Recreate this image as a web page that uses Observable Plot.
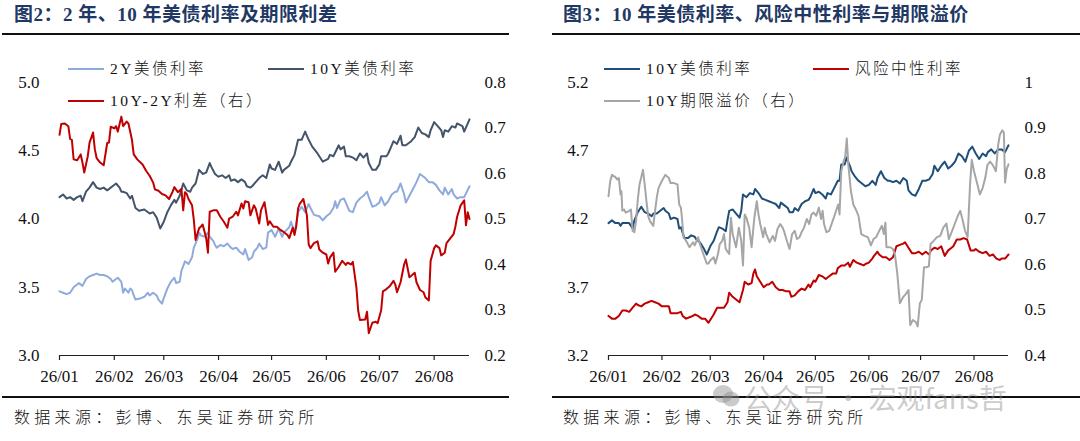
<!DOCTYPE html>
<html>
<head>
<meta charset="utf-8">
<script src="https://cdn.jsdelivr.net/npm/d3@7"></script>
<script src="https://cdn.jsdelivr.net/npm/@observablehq/plot@0.6"></script>
<style>
  html, body { margin: 0; padding: 0; background: #fff; }
  #wrap { position: relative; width: 1080px; height: 441px; overflow: hidden; background: #fff; }
  .abs { position: absolute; white-space: nowrap; }
  .title { font-family: "Liberation Serif", "Noto Sans CJK SC", serif; font-weight: bold; font-size: 19px; color: #1f3864; letter-spacing: 0.5px; line-height: 22px; }
  .rule { position: absolute; height: 2px; background: #111; }
  .src { font-family: "Liberation Serif", "Noto Sans CJK SC", serif; font-size: 16px; color: #111; letter-spacing: 4.3px; line-height: 20px; font-weight: 300; }
  .leg { font-family: "Liberation Serif", "Noto Sans CJK SC", serif; font-size: 15.5px; color: #111; letter-spacing: 2.5px; line-height: 20px; font-weight: 300; }
  .sw { position: absolute; height: 2px; }
  .wm { font-family: "Noto Sans CJK SC", sans-serif; font-size: 28px; color: rgba(140,140,140,0.45); line-height: 34px; }
</style>
</head>
<body>
<div id="wrap"></div>
<script>
// ---------- data (day = days since 2026-01-01) ----------
const months = ["26/01","26/02","26/03","26/04","26/05","26/06","26/07","26/08"];
const lastDay = 232;

// Figure 2: 2Y UST yield (left axis)
const ust2y = [[0,3.47],[2,3.46],[4,3.45],[6,3.46],[8,3.50],[10,3.52],[11,3.53],[13,3.51],[15,3.56],[17,3.58],[19,3.59],[21,3.60],[23,3.59],[25,3.59],[27,3.58],[29,3.56],[30,3.54],[32,3.56],[33,3.57],[35,3.54],[36,3.46],[37,3.49],[39,3.46],[40,3.49],[41,3.48],[42,3.44],[43,3.41],[46,3.42],[48,3.43],[50,3.46],[51,3.44],[53,3.46],[55,3.44],[56,3.41],[58,3.38],[59,3.42],[61,3.49],[63,3.54],[65,3.57],[66,3.53],[68,3.54],[69,3.62],[71,3.69],[73,3.67],[75,3.72],[76,3.79],[78,3.85],[79,3.90],[80,3.88],[82,3.87],[84,3.90],[85,3.87],[87,3.84],[88,3.81],[89,3.79],[91,3.81],[93,3.80],[95,3.82],[97,3.79],[98,3.78],[100,3.79],[102,3.76],[104,3.74],[105,3.78],[107,3.70],[109,3.72],[110,3.76],[112,3.79],[113,3.82],[115,3.78],[117,3.79],[118,3.90],[120,3.92],[122,3.87],[124,3.93],[126,3.87],[127,3.90],[130,3.94],[131,3.98],[133,3.90],[135,4.05],[137,4.09],[139,4.05],[141,4.11],[142,4.08],[144,4.03],[147,4.02],[149,3.99],[151,4.02],[153,4.04],[155,4.08],[156,4.13],[157,4.08],[159,4.14],[161,4.15],[162,4.12],[164,4.06],[166,4.05],[168,4.12],[170,4.15],[172,4.17],[174,4.20],[175,4.16],[177,4.09],[179,4.10],[181,4.12],[182,4.16],[184,4.10],[186,4.13],[188,4.18],[190,4.20],[191,4.20],[193,4.26],[195,4.18],[196,4.12],[198,4.17],[200,4.22],[202,4.27],[204,4.33],[206,4.31],[207,4.30],[209,4.27],[211,4.27],[213,4.25],[215,4.21],[217,4.18],[218,4.23],[220,4.18],[222,4.22],[223,4.18],[225,4.15],[227,4.16],[229,4.16],[232,4.24]];

// Figure 2: 10Y UST yield (left axis)
const ust10y = [[0,4.16],[2,4.18],[4,4.15],[6,4.16],[8,4.14],[10,4.16],[12,4.17],[13,4.13],[15,4.20],[17,4.23],[19,4.27],[21,4.23],[23,4.22],[25,4.23],[27,4.21],[30,4.24],[32,4.26],[34,4.23],[35,4.20],[36,4.20],[38,4.19],[40,4.15],[41,4.17],[43,4.08],[45,4.06],[48,4.07],[51,4.04],[53,4.05],[55,4.01],[57,3.93],[59,3.98],[61,4.05],[63,4.10],[65,4.14],[66,4.12],[68,4.17],[70,4.26],[72,4.21],[74,4.20],[75,4.23],[77,4.26],[79,4.36],[81,4.33],[83,4.34],[85,4.41],[86,4.38],[88,4.33],[90,4.31],[92,4.32],[94,4.30],[96,4.32],[97,4.28],[99,4.29],[101,4.27],[103,4.29],[105,4.27],[106,4.24],[108,4.23],[109,4.24],[111,4.27],[113,4.30],[115,4.32],[117,4.30],[119,4.40],[120,4.37],[122,4.36],[124,4.42],[126,4.34],[127,4.36],[130,4.39],[131,4.42],[133,4.47],[135,4.58],[137,4.58],[139,4.64],[141,4.58],[143,4.53],[146,4.48],[149,4.42],[152,4.44],[153,4.47],[155,4.46],[158,4.54],[159,4.51],[161,4.53],[162,4.46],[164,4.46],[166,4.45],[168,4.43],[170,4.48],[172,4.45],[174,4.48],[175,4.41],[177,4.36],[179,4.36],[181,4.40],[182,4.46],[185,4.46],[186,4.48],[188,4.54],[189,4.57],[191,4.55],[193,4.61],[194,4.54],[196,4.54],[199,4.57],[201,4.60],[203,4.67],[205,4.63],[207,4.62],[209,4.60],[210,4.65],[212,4.71],[214,4.68],[216,4.65],[217,4.60],[218,4.65],[220,4.64],[222,4.68],[224,4.67],[225,4.70],[228,4.68],[229,4.64],[232,4.73]];

// Figure 2: 10Y-2Y spread (right axis)
const spread = [[0,0.685],[1,0.709],[3,0.710],[5,0.704],[6,0.676],[7,0.674],[8,0.631],[10,0.629],[12,0.642],[13,0.624],[14,0.602],[16,0.638],[17,0.668],[19,0.690],[20,0.653],[21,0.634],[23,0.624],[25,0.618],[27,0.667],[28,0.668],[29,0.703],[31,0.699],[32,0.704],[33,0.692],[34,0.709],[35,0.725],[36,0.704],[38,0.714],[39,0.710],[41,0.674],[42,0.642],[44,0.631],[47,0.620],[49,0.606],[51,0.595],[53,0.580],[54,0.565],[56,0.562],[58,0.555],[60,0.552],[62,0.544],[64,0.560],[65,0.570],[67,0.559],[69,0.566],[70,0.519],[71,0.559],[72,0.555],[73,0.544],[75,0.530],[76,0.498],[77,0.454],[79,0.480],[80,0.483],[81,0.488],[83,0.458],[84,0.426],[85,0.516],[87,0.519],[89,0.519],[91,0.505],[93,0.494],[95,0.481],[96,0.501],[98,0.505],[100,0.516],[101,0.508],[103,0.534],[104,0.523],[105,0.539],[107,0.537],[108,0.508],[110,0.530],[111,0.523],[113,0.490],[114,0.519],[116,0.537],[118,0.487],[119,0.495],[121,0.483],[123,0.483],[125,0.476],[127,0.471],[129,0.465],[130,0.458],[132,0.481],[133,0.465],[134,0.485],[135,0.523],[136,0.534],[138,0.544],[140,0.508],[141,0.444],[142,0.436],[144,0.447],[146,0.451],[147,0.433],[149,0.426],[151,0.422],[152,0.402],[153,0.415],[155,0.426],[156,0.384],[158,0.395],[160,0.408],[162,0.399],[163,0.404],[165,0.400],[166,0.406],[168,0.350],[169,0.299],[170,0.278],[173,0.279],[174,0.296],[175,0.249],[177,0.272],[179,0.274],[180,0.271],[182,0.299],[183,0.341],[185,0.346],[187,0.353],[189,0.364],[190,0.356],[191,0.339],[193,0.361],[195,0.400],[196,0.411],[198,0.372],[199,0.375],[201,0.382],[202,0.361],[204,0.344],[206,0.339],[207,0.328],[209,0.321],[210,0.408],[212,0.436],[213,0.442],[215,0.436],[216,0.420],[218,0.426],[219,0.447],[221,0.457],[223,0.467],[224,0.483],[225,0.505],[227,0.530],[229,0.541],[230,0.486],[231,0.515],[232,0.500]];

// Figure 3: 10Y UST yield (left axis)
const ust10yB = [[0,4.17],[2,4.19],[4,4.17],[6,4.17],[7,4.15],[8,4.17],[10,4.17],[12,4.17],[14,4.13],[15,4.19],[17,4.25],[19,4.29],[21,4.25],[23,4.24],[25,4.22],[26,4.24],[28,4.24],[30,4.26],[32,4.28],[33,4.26],[35,4.24],[36,4.20],[38,4.21],[40,4.20],[41,4.13],[42,4.14],[44,4.06],[46,4.06],[48,4.08],[50,4.07],[51,4.05],[53,4.03],[55,3.99],[57,3.94],[59,4.00],[61,4.04],[63,4.11],[64,4.14],[66,4.13],[68,4.11],[69,4.19],[70,4.26],[72,4.27],[74,4.24],[76,4.21],[77,4.26],[78,4.38],[80,4.36],[82,4.39],[84,4.38],[85,4.42],[87,4.39],[89,4.35],[91,4.34],[93,4.33],[95,4.32],[97,4.31],[99,4.28],[100,4.32],[102,4.30],[104,4.28],[105,4.25],[107,4.25],[108,4.28],[110,4.26],[112,4.31],[114,4.33],[116,4.34],[117,4.36],[119,4.42],[120,4.39],[122,4.40],[124,4.38],[126,4.35],[127,4.39],[129,4.38],[131,4.43],[133,4.48],[134,4.48],[135,4.60],[137,4.60],[138,4.65],[140,4.59],[141,4.55],[143,4.51],[145,4.48],[147,4.46],[149,4.44],[151,4.45],[153,4.48],[155,4.45],[156,4.50],[158,4.55],[160,4.50],[162,4.48],[163,4.48],[165,4.47],[167,4.48],[169,4.46],[171,4.50],[173,4.48],[174,4.41],[176,4.38],[178,4.37],[180,4.42],[182,4.48],[184,4.48],[186,4.49],[188,4.53],[189,4.59],[191,4.55],[193,4.59],[195,4.62],[197,4.57],[199,4.59],[201,4.62],[203,4.68],[205,4.66],[207,4.62],[209,4.70],[211,4.73],[213,4.68],[215,4.64],[217,4.68],[219,4.66],[220,4.69],[222,4.71],[224,4.68],[226,4.71],[228,4.71],[230,4.69],[232,4.74]];

// Figure 3: risk-neutral rate (left axis)
const riskNeutral = [[0,3.49],[2,3.47],[4,3.47],[6,3.49],[8,3.53],[10,3.53],[12,3.52],[14,3.55],[16,3.58],[17,3.57],[19,3.56],[21,3.58],[23,3.59],[25,3.60],[27,3.59],[29,3.58],[31,3.56],[33,3.56],[35,3.56],[36,3.51],[38,3.51],[40,3.51],[42,3.52],[43,3.49],[45,3.47],[47,3.48],[49,3.49],[50,3.50],[52,3.49],[54,3.47],[56,3.47],[58,3.44],[59,3.46],[61,3.50],[63,3.55],[65,3.55],[67,3.55],[69,3.59],[70,3.66],[72,3.63],[74,3.61],[76,3.59],[78,3.68],[79,3.74],[81,3.72],[83,3.73],[84,3.80],[85,3.83],[86,3.78],[88,3.74],[90,3.70],[92,3.72],[93,3.72],[95,3.74],[97,3.70],[99,3.68],[101,3.68],[103,3.67],[105,3.67],[106,3.63],[108,3.64],[110,3.67],[112,3.69],[114,3.68],[116,3.72],[117,3.70],[119,3.75],[120,3.74],[122,3.79],[124,3.78],[126,3.76],[128,3.78],[130,3.80],[132,3.80],[133,3.84],[135,3.86],[137,3.86],[139,3.88],[140,3.85],[142,3.90],[144,3.88],[146,3.87],[148,3.86],[149,3.87],[151,3.88],[153,3.91],[154,3.93],[156,3.96],[157,3.94],[159,3.92],[161,3.92],[163,3.90],[165,3.92],[167,4.00],[169,4.01],[171,4.02],[172,4.03],[174,3.99],[176,3.95],[178,3.95],[180,3.96],[182,3.94],[184,3.96],[186,3.94],[187,3.97],[189,3.99],[191,3.98],[193,4.00],[195,3.93],[197,3.97],[199,3.99],[200,4.00],[202,4.05],[204,4.05],[206,4.06],[208,4.05],[210,3.97],[212,3.97],[213,3.98],[215,3.96],[217,3.95],[219,3.96],[221,3.93],[223,3.94],[225,3.91],[227,3.90],[228,3.91],[230,3.91],[232,3.94]];

// Figure 3: 10Y term premium (right axis)
const termPremium = [[0,0.750],[1,0.783],[2,0.797],[4,0.792],[5,0.787],[6,0.790],[7,0.754],[7.5,0.761],[8,0.718],[9,0.721],[10,0.714],[12,0.718],[13,0.721],[14,0.674],[15,0.671],[16,0.696],[17,0.743],[18,0.776],[20,0.808],[21,0.776],[22,0.739],[23,0.707],[24,0.696],[26,0.685],[27,0.718],[28,0.747],[29,0.768],[31,0.784],[33,0.797],[35,0.790],[36,0.779],[38,0.779],[40,0.776],[41,0.732],[42,0.725],[42.5,0.707],[43.5,0.660],[45,0.652],[47,0.638],[49,0.649],[50,0.642],[52,0.660],[53,0.645],[55,0.623],[57,0.602],[58,0.602],[59,0.609],[61,0.616],[62,0.602],[63.5,0.623],[64.5,0.645],[66,0.652],[67,0.667],[68,0.634],[70,0.623],[71,0.703],[72,0.667],[74,0.638],[75.6,0.681],[77,0.652],[78,0.598],[79,0.710],[80,0.703],[81.6,0.681],[83,0.638],[84.6,0.703],[86,0.739],[87,0.710],[88,0.689],[89.7,0.660],[90.6,0.681],[91.5,0.667],[93.4,0.649],[95.3,0.663],[96.6,0.652],[98,0.678],[99.6,0.689],[101,0.681],[102,0.671],[103.7,0.649],[105,0.634],[106.5,0.667],[108,0.674],[109.3,0.656],[110.8,0.660],[112,0.671],[113.4,0.681],[115,0.700],[116.4,0.689],[117.7,0.710],[119,0.714],[120.5,0.707],[122,0.725],[123.3,0.700],[124.2,0.718],[125,0.689],[126.4,0.671],[128,0.674],[129.4,0.689],[130.7,0.703],[132,0.718],[133.2,0.732],[134,0.710],[135,0.805],[136.3,0.826],[137.3,0.837],[138.2,0.877],[139.1,0.819],[140.6,0.761],[142,0.732],[143.8,0.718],[145,0.707],[146.6,0.667],[148.5,0.663],[150.4,0.660],[152.2,0.642],[153.7,0.656],[155.2,0.660],[157,0.674],[158.6,0.685],[159.7,0.667],[160.6,0.692],[161.2,0.638],[163.4,0.638],[165,0.634],[166.2,0.620],[167.5,0.580],[169,0.515],[171,0.529],[172.4,0.535],[174,0.544],[175,0.467],[176.5,0.478],[178.4,0.473],[179.3,0.464],[180.6,0.515],[181.7,0.522],[183,0.594],[184.3,0.594],[185.8,0.596],[186.8,0.645],[188.6,0.652],[190.5,0.660],[192.4,0.663],[194.2,0.681],[196,0.690],[197.4,0.656],[199,0.671],[200.8,0.689],[202.6,0.707],[204,0.718],[205.5,0.696],[206.8,0.674],[208.3,0.660],[209.7,0.776],[210.7,0.830],[212,0.805],[213.5,0.783],[215.4,0.754],[217,0.768],[218.5,0.790],[219.8,0.819],[221.3,0.826],[222.8,0.819],[224.7,0.805],[226,0.863],[227,0.885],[228.4,0.895],[229.3,0.890],[230,0.780],[231,0.810],[232,0.820]];

// axis ticks
const leftTicksA = [3.0, 3.5, 4.0, 4.5, 5.0];
const rightTicksA = [0.2, 0.3, 0.4, 0.5, 0.6, 0.7, 0.8];
const rightLabelsA = ["0.2","0.3","0.4","0.5","0.6","0.7","0.8"];
const leftTicksB = [3.2, 3.7, 4.2, 4.7, 5.2];
const rightTicksB = [0.4, 0.5, 0.6, 0.7, 0.8, 0.9, 1.0];
const rightLabelsB = ["0.4","0.5","0.6","0.7","0.8","0.9","1"];

// text
const titleA = "图2：2 年、10 年美债利率及期限利差";
const titleB = "图3：10 年美债利率、风险中性利率与期限溢价";
const source = "数据来源：彭博、东吴证券研究所";
const legendA = ["2Y美债利率", "10Y美债利率", "10Y-2Y利差（右）"];
const legendB = ["10Y美债利率", "风险中性利率", "10Y期限溢价（右）"];
const watermark = "公众号 · 宏观fans哲";

// colors
const C2Y = "#8faadc", C10Y = "#44546a", CSPR = "#c00000";
const C10B = "#1f4e79", CRN = "#c00000", CTP = "#a6a6a6";

// ---------- helpers ----------
const D0 = Date.UTC(2026, 0, 1);
const toDate = d => new Date(D0 + d * 864e5);
const xDomain = [toDate(0), toDate(lastDay)];
const monthTicks = d3.utcMonth.range(toDate(0), toDate(lastDay));

function panel({lDom, rDom, lTicks, rTicks, rLabels, leftSeries, rightSeries, mL, mR, padL, padR}) {
  const toL = v => lDom[0] + (v - rDom[0]) * (lDom[1] - lDom[0]) / (rDom[1] - rDom[0]);
  const rLabelOf = y => {
    let best = 0;
    rTicks.forEach((t, i) => { if (Math.abs(toL(t) - y) < Math.abs(toL(rTicks[best]) - y)) best = i; });
    return rLabels[best];
  };
  const marks = [
    Plot.axisX(monthTicks, {tickSize: 5, tickPadding: 9, tickFormat: (d) => months[d.getUTCMonth()], label: null, stroke: "#222", strokeWidth: 1.2}),
    Plot.axisY(lTicks, {anchor: "left", tickSize: 0, tickPadding: padL, tickFormat: d => d.toFixed(1), label: null}),
    Plot.axisY(rTicks.map(toL), {anchor: "right", tickSize: 0, tickPadding: padR, tickFormat: rLabelOf, label: null}),
    Plot.ruleY([lDom[0]], {stroke: "#222", strokeWidth: 1.2})
  ];
  for (const s of leftSeries) {
    marks.push(Plot.line(s.data, {x: d => toDate(d[0]), y: d => d[1], stroke: s.color, strokeWidth: 2, curve: "linear"}));
  }
  for (const s of rightSeries) {
    marks.push(Plot.line(s.data, {x: d => toDate(d[0]), y: d => toL(d[1]), stroke: s.color, strokeWidth: 2, curve: "linear"}));
  }
  return Plot.plot({
    width: 540, height: 360,
    marginLeft: mL, marginRight: mR, marginTop: 42, marginBottom: 45,
    x: {type: "utc", domain: xDomain},
    y: {domain: lDom},
    style: {fontFamily: "'Liberation Serif', 'Times New Roman', serif", fontSize: "17px", color: "#111", background: "transparent", overflow: "visible"},
    marks
  });
}

const wrap = document.getElementById("wrap");
function addDiv(cls, css, text) {
  const d = document.createElement("div");
  d.className = cls;
  d.style.cssText = css;
  if (text != null) d.textContent = text;
  wrap.appendChild(d);
  return d;
}

// Panel A
const pA = panel({
  lDom: [3, 5], rDom: [0.2, 0.8], lTicks: leftTicksA, rTicks: rightTicksA, rLabels: rightLabelsA,
  leftSeries: [{data: ust2y, color: C2Y}, {data: ust10y, color: C10Y}],
  rightSeries: [{data: spread, color: CSPR}],
  mL: 59, mR: 71, padL: 20, padR: 15
});
addDiv("abs", "left:0;top:40px;").appendChild(pA);

// Panel B
const pB = panel({
  lDom: [3.2, 5.2], rDom: [0.4, 1.0], lTicks: leftTicksB, rTicks: rightTicksB, rLabels: rightLabelsB,
  leftSeries: [{data: ust10yB, color: C10B}, {data: riskNeutral, color: CRN}],
  rightSeries: [{data: termPremium, color: CTP}],
  mL: 68, mR: 72, padL: 20, padR: 16
});
addDiv("abs", "left:540px;top:40px;").appendChild(pB);

// Titles & rules
addDiv("abs title", "left:14px;top:4px;", titleA);
addDiv("abs title", "left:563px;top:4px;", titleB);
addDiv("rule", "left:2px;top:33px;width:507px;");
addDiv("rule", "left:552px;top:33px;width:528px;");
addDiv("rule", "left:2px;top:396px;width:507px;");
addDiv("rule", "left:552px;top:396px;width:528px;");
addDiv("abs src", "left:14px;top:408px;", source);
addDiv("abs src", "left:563px;top:408px;", source);

// Legends
function legendItem(x, y, color, text) {
  addDiv("sw", `left:${x}px;top:${y - 1}px;width:36px;background:${color};`);
  addDiv("abs leg", `left:${x + 42}px;top:${y - 10}px;`, text);
}
legendItem(68, 69, C2Y, legendA[0]);
legendItem(268, 69, C10Y, legendA[1]);
legendItem(68, 101, CSPR, legendA[2]);
legendItem(604, 69, C10B, legendB[0]);
legendItem(813, 69, CRN, legendB[1]);
legendItem(604, 101, CTP, legendB[2]);

// Watermark
const icon = addDiv("abs", "left:712px;top:383px;width:28px;height:26px;");
icon.innerHTML = '<svg width="28" height="26" viewBox="0 0 28 26"><ellipse cx="11" cy="11" rx="10" ry="9" fill="rgba(140,140,140,0.45)"/><ellipse cx="19" cy="16" rx="8.5" ry="7.5" fill="rgba(140,140,140,0.45)"/></svg>';
addDiv("abs wm", "left:744px;top:380px;", watermark);
</script>
</body>
</html>
